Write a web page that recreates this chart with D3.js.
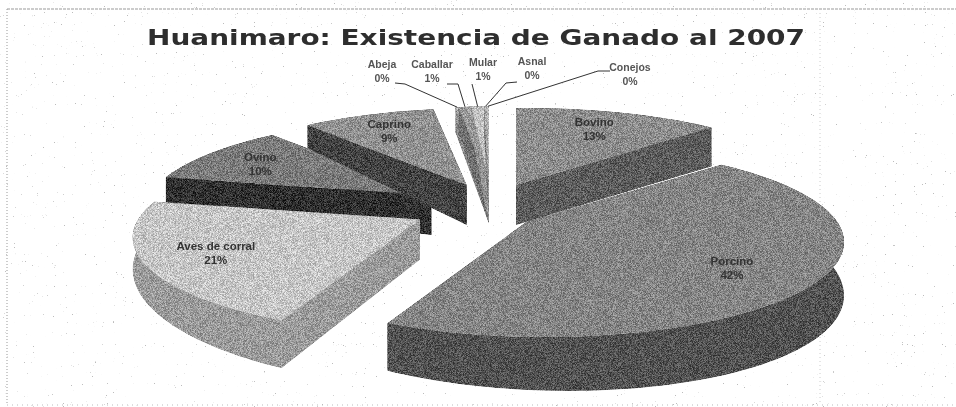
<!DOCTYPE html>
<html>
  <head>
    <meta charset="utf-8">
    <script src="https://d3js.org/d3.v7.min.js"></script>
    <style>
      html, body { margin: 0; background: #fff; }
      text { font-family: "Liberation Sans", sans-serif; fill: #333; }
    </style>
  </head>
  <body>
    <div id="pie"></div>
    <script>
var titleText = "Huanimaro: Existencia de Ganado al 2007";
var categories = ["Bovino", "Porcino", "Aves de corral", "Ovino", "Caprino", "Abeja", "Caballar", "Mular", "Asnal", "Conejos"];
var values = [12.6, 42.4, 21.4, 10.4, 8.6, 0.2, 0.8, 0.8, 0.2, 0.1];
var percentLabels = ["13%", "42%", "21%", "10%", "9%", "0%", "1%", "1%", "0%", "0%"];
var topColors = ["#8d8d8d", "#858585", "#c6c6c6", "#7b7b7b", "#929292", "#b4b4b4", "#9c9c9c", "#c0c0c0", "#aaaaaa", "#cccccc"];
var wallColors = ["#5c5c5c", "#525252", "#9b9b9b", "#303030", "#434343", "#8a8a8a", "#707070", "#969696", "#808080", "#a0a0a0"];
var drawOrder = ["Ovino", "Caprino", "Abeja", "Caballar", "Mular", "Asnal", "Conejos", "Bovino", "Aves de corral", "Porcino"];

// small slices get their labels outside, with a leader: [text x, first line y, elbow start, elbow end]
var outsideLabels = {
  "Abeja": [382, 68, [395, 83], [405, 84]],
  "Caballar": [432, 68, [447, 84], [458, 84]],
  "Mular": [483, 66, [472, 84], [472, 84]],
  "Asnal": [532, 65, [517, 82], [506, 83]],
  "Conejos": [630, 71, [610, 71], [598, 71]]
};

var width = 956, height = 407;
var cx = 475, cy = 208;      // pie centre before explosion
var explodeX = 62, explodeY = 25, farShift = 18;
var radiusX = 296, radiusY = 92, perspY = 0.197, perspX = 0.05;

var svg = d3.select("#pie").append("svg")
  .attr("width", width)
  .attr("height", height);

var defs = svg.append("defs");

// photocopy grain for the filled shapes
var grain = defs.append("filter").attr("id", "grain")
  .attr("x", 0).attr("y", 0).attr("width", 1).attr("height", 1)
  .attr("color-interpolation-filters", "sRGB");
grain.append("feTurbulence").attr("type", "fractalNoise").attr("baseFrequency", 1.4)
  .attr("numOctaves", 1).attr("seed", 4).attr("result", "n");
grain.append("feColorMatrix").attr("in", "n").attr("type", "matrix")
  .attr("values", "3 0 0 0 -1 3 0 0 0 -1 3 0 0 0 -1 0 0 0 0 1").attr("result", "gray");
grain.append("feComposite").attr("in", "SourceGraphic").attr("in2", "gray")
  .attr("operator", "arithmetic").attr("k1", 0).attr("k2", 1).attr("k3", 0.3).attr("k4", -0.15)
  .attr("result", "mix");
grain.append("feComposite").attr("in", "mix").attr("in2", "SourceAlpha").attr("operator", "in");

var soft = defs.append("filter").attr("id", "soft");
soft.append("feGaussianBlur").attr("stdDeviation", 0.5);

// stray specks of the scan
var speck = defs.append("filter").attr("id", "speck")
  .attr("x", 0).attr("y", 0).attr("width", 1).attr("height", 1);
speck.append("feTurbulence").attr("type", "fractalNoise").attr("baseFrequency", 0.9)
  .attr("numOctaves", 2).attr("seed", 11);
speck.append("feColorMatrix").attr("type", "matrix")
  .attr("values", "0 0 0 0 0.5 0 0 0 0 0.5 0 0 0 0 0.5 14 0 0 0 -10.8");
svg.append("rect").attr("width", width).attr("height", height).attr("filter", "url(#speck)");

// frame of the pasted chart
var frame = svg.append("g").attr("fill", "none").attr("stroke", "#999");
frame.append("line").attr("x1", 7).attr("x2", 956).attr("y1", 9).attr("y2", 9).attr("stroke-dasharray", "3 1");
frame.append("line").attr("x1", 7).attr("x2", 7).attr("y1", 9).attr("y2", 405).attr("stroke-dasharray", "1 2");
frame.append("line").attr("x1", 7).attr("x2", 956).attr("y1", 405).attr("y2", 405).attr("stroke", "#bbb").attr("stroke-dasharray", "1 4");
frame.append("line").attr("x1", 820).attr("x2", 820).attr("y1", 9).attr("y2", 405).attr("stroke", "#ccc").attr("stroke-dasharray", "1 3");

svg.append("text")
  .attr("x", 476).attr("y", 45)
  .attr("text-anchor", "middle")
  .attr("textLength", 658).attr("lengthAdjust", "spacingAndGlyphs")
  .style("font-family", "'DejaVu Sans'")
  .style("font-weight", "bold")
  .style("font-size", "22px")
  .style("fill", "#2e2e2e")
  .attr("filter", "url(#soft)")
  .text(titleText);

var pie = d3.pie().sort(null).value(function(d) { return d; });
var arcs = pie(values);

var color = d3.scaleOrdinal().domain(categories).range(topColors);
var wallColor = d3.scaleOrdinal().domain(categories).range(wallColors);

// the little slices are pulled out together, as one wedge
var firstSmall = arcs[categories.indexOf("Abeja")];
var lastSmall = arcs[categories.indexOf("Conejos")];
var smallMid = (firstSmall.startAngle + lastSmall.endAngle) / 2;

function pullAngle(name, d) {
  return outsideLabels[name] ? smallMid : (d.startAngle + d.endAngle) / 2;
}

// ground plane -> screen, with some perspective (near and right side bigger)
function project(a, r, down, mid) {
  var X = Math.sin(a) * r, Y = -Math.cos(a) * r;
  var s = 1 / (1 - perspY * Y - perspX * X);
  var ox = cx + explodeX * Math.sin(mid) + farShift * Math.max(0, Math.cos(mid));
  var oy = cy - explodeY * Math.cos(mid);
  var depth = 40 + 11 * X + 13 * Y;
  return [ox + radiusX * X * s, oy + radiusY * Y * s + (down ? depth : 0)];
}

var line = d3.line();
var pies = svg.append("g").attr("filter", "url(#grain)");

drawOrder.forEach(function(name) {
  var i = categories.indexOf(name);
  var d = arcs[i];
  var mid = pullAngle(name, d);
  var n = Math.max(2, Math.ceil((d.endAngle - d.startAngle) * 40));
  var angles = d3.range(n + 1).map(function(k) {
    return d.startAngle + (d.endAngle - d.startAngle) * k / n;
  });
  var g = pies.append("g").attr("class", "slice");

  // cut faces
  [d.startAngle, d.endAngle].forEach(function(a) {
    g.append("path")
      .attr("d", line([project(a, 0, false, mid), project(a, 1, false, mid), project(a, 1, true, mid), project(a, 0, true, mid)]) + "Z")
      .attr("fill", wallColor(name));
  });

  // rim
  var rimTop = angles.map(function(a) { return project(a, 1, false, mid); });
  var rimBottom = angles.map(function(a) { return project(a, 1, true, mid); }).reverse();
  g.append("path").attr("d", line(rimTop.concat(rimBottom)) + "Z").attr("fill", wallColor(name));

  // top
  g.append("path").attr("d", line([project(0, 0, false, mid)].concat(rimTop)) + "Z").attr("fill", color(name));
});

var labels = svg.append("g").attr("text-anchor", "middle").attr("filter", "url(#soft)");

categories.forEach(function(name, i) {
  var d = arcs[i];
  var mid = (d.startAngle + d.endAngle) / 2;
  var out = outsideLabels[name];
  var x, y;
  if (out) {
    x = out[0]; y = out[1];
    var end = project(mid, 1, false, smallMid);
    svg.append("path")
      .attr("d", line([out[2], out[3], end]))
      .attr("fill", "none").attr("stroke", "#333").attr("stroke-width", 1);
  } else {
    var p = project(mid, 0.75, false, mid);
    x = p[0]; y = p[1] - 2;
  }
  labels.append("text").attr("x", x).attr("y", y).text(name).style("font-weight", "bold").style("font-size", out ? "10.5px" : "11.5px").style("fill", out ? "#555" : "#333");
  labels.append("text").attr("x", x).attr("y", y + 14).text(percentLabels[i]).style("font-weight", "bold").style("font-size", out ? "10.5px" : "11.5px").style("fill", out ? "#555" : "#333");
});
    </script>
  </body>
</html>
